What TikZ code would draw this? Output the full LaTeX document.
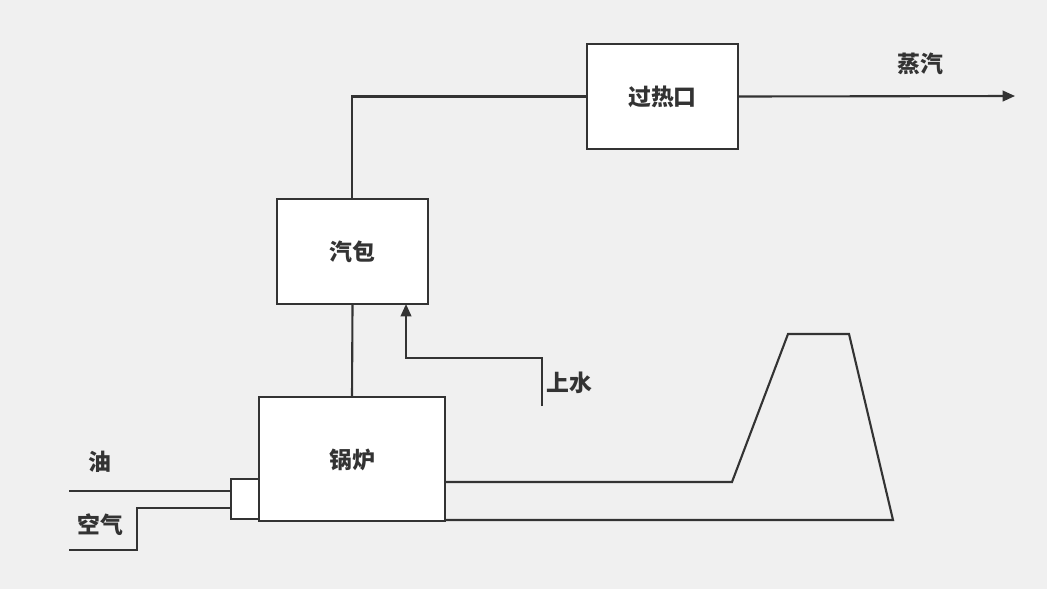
\documentclass[tikz,border=0pt]{standalone}
\usepackage{fontspec}
\setmainfont{Noto Sans CJK SC}
\usetikzlibrary{arrows.meta}
\definecolor{line gray}{HTML}{333333}
\tikzset{
  unit/.style = {draw=line gray, line width=1.2pt, fill=white},
  pipe/.style = {draw=line gray, line width=1.2pt},
  lbl/.style = {font=\bfseries\fontsize{13}{15}\selectfont, text=line gray}
}
\begin{document}
\begin{tikzpicture}[x=0.02cm, y=-0.02cm]
			% background
			\fill[white!94!black] (0, 0) rectangle (1047, 589);
			% units
			\node[unit, minimum width=3.02cm, minimum height=2.1cm, lbl] (heater) at (662.5, 96.5) {过热口};
			\node[unit, minimum width=3.02cm, minimum height=2.1cm, lbl] (drum) at (352.5, 251.5) {汽包};
			\draw[unit] (259, 397) rectangle (445, 521);
			\node[lbl] (boiler) at (352, 460) {锅炉};
			\draw[unit] (231, 479) rectangle (259, 519);
			% steam line
			\coordinate (drumtop) at (352, 199);
			\coordinate (steam) at (1015, 96);
			\draw[pipe] (drumtop) |- (heater.west);
			\draw[pipe, -{Triangle[length=7pt, width=6pt]}] (heater.east) -- (steam);
			\node[lbl] (steamtxt) at (920, 64) {蒸汽};
			% boiler to drum
			\coordinate (boilertop) at (352, 397);
			\draw[pipe] (boilertop) -- (drum.south);
			% feed water
			\coordinate (water) at (542, 406);
			\coordinate (drumin) at (406, 304);
			\draw[pipe, -{Triangle[length=7pt, width=6pt]}] (water) -- (542, 358) -| (drumin);
			\node[lbl] (watertxt) at (569, 383) {上水};
			% fuel and air
			\coordinate (oil) at (69, 491);
			\coordinate (air) at (69, 550);
			\draw[pipe] (oil) -- (231, 491);
			\draw[pipe] (air) -- (137, 550) -- (137, 508) -- (231, 508);
			\node[lbl] (oiltxt) at (100, 462) {油};
			\node[lbl] (airtxt) at (100, 525) {空气};
			% flue and stack
			\draw[pipe] (445, 482) -- (732, 482) -- (788, 334) -- (849, 334) -- (893, 520) -- (445, 520);
\end{tikzpicture}
\end{document}
